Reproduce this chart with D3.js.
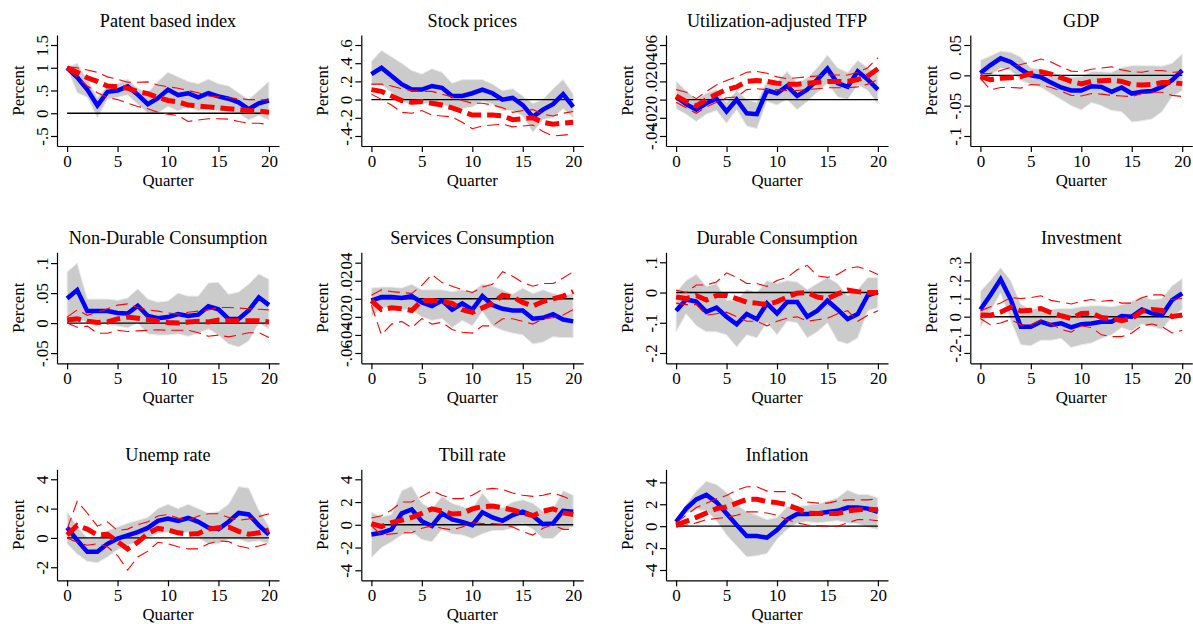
<!DOCTYPE html>
<html>
<head>
<meta charset="utf-8">
<script src="https://cdn.jsdelivr.net/npm/d3@7"></script>
<style>
  body { margin: 0; background: #fff; }
  svg { display: block; }
  text { font-family: "Liberation Serif", "Times New Roman", serif; fill: #000; }
</style>
</head>
<body>
<svg id="chart" width="1193" height="624"></svg>
<script>
// Impulse responses over 20 quarters: baseline (blue, grey band) and alternative (red dashed, thin red bounds)
const quarters = d3.range(0, 21);
const xTicks = [0, 5, 10, 15, 20];

const titles = ["Patent based index", "Stock prices", "Utilization-adjusted TFP", "GDP",
  "Non-Durable Consumption", "Services Consumption", "Durable Consumption", "Investment",
  "Unemp rate", "Tbill rate", "Inflation"];

// Patent based index
const patentBase = [1.0, 0.79, 0.52, 0.17, 0.47, 0.5, 0.59, 0.41, 0.2, 0.33, 0.52, 0.4, 0.44, 0.35, 0.44, 0.37, 0.32, 0.24, 0.09, 0.22, 0.28];
const patentBaseLo = [1.0, 0.45, 0.35, -0.1, 0.3, 0.35, 0.4, 0.2, 0.0, 0.0, 0.15, 0.05, 0.15, 0.05, 0.1, 0.05, 0.05, 0.0, -0.15, -0.05, -0.15];
const patentBaseHi = [1.0, 1.1, 0.75, 0.35, 0.6, 0.65, 0.75, 0.55, 0.45, 0.7, 0.9, 0.8, 0.7, 0.65, 0.75, 0.65, 0.6, 0.45, 0.3, 0.5, 0.7];
const patentAlt = [1.0, 0.9, 0.78, 0.7, 0.6, 0.58, 0.55, 0.48, 0.43, 0.35, 0.28, 0.25, 0.18, 0.16, 0.14, 0.12, 0.1, 0.08, 0.06, 0.05, 0.02];
const patentAltLo = [0.95, 0.8, 0.6, 0.45, 0.35, 0.3, 0.22, 0.15, 0.1, 0.02, -0.02, -0.05, -0.18, -0.15, -0.12, -0.12, -0.13, -0.18, -0.22, -0.22, -0.25];
const patentAltHi = [1.02, 1.0, 0.95, 0.9, 0.8, 0.75, 0.68, 0.68, 0.69, 0.62, 0.58, 0.55, 0.5, 0.45, 0.38, 0.36, 0.34, 0.32, 0.3, 0.3, 0.29];

// Stock prices
const stockBase = [0.28, 0.35, 0.26, 0.17, 0.11, 0.11, 0.15, 0.13, 0.04, 0.04, 0.07, 0.11, 0.07, 0.0, 0.02, -0.06, -0.19, -0.11, -0.05, 0.06, -0.08];
const stockBaseLo = [0.16, 0.16, 0.08, -0.02, -0.06, -0.05, -0.04, -0.05, -0.1, -0.1, -0.08, -0.02, -0.05, -0.12, -0.12, -0.18, -0.36, -0.22, -0.2, -0.1, -0.2];
const stockBaseHi = [0.42, 0.54, 0.47, 0.4, 0.32, 0.28, 0.34, 0.3, 0.18, 0.22, 0.22, 0.22, 0.17, 0.1, 0.12, 0.04, -0.04, 0.0, 0.12, 0.22, 0.06];
const stockAlt = [0.11, 0.09, 0.04, -0.01, -0.03, -0.02, -0.04, -0.06, -0.09, -0.13, -0.17, -0.17, -0.17, -0.18, -0.22, -0.21, -0.2, -0.25, -0.27, -0.26, -0.25];
const stockAltLo = [0.06, 0.0, -0.06, -0.14, -0.15, -0.12, -0.17, -0.18, -0.19, -0.25, -0.32, -0.29, -0.28, -0.27, -0.3, -0.29, -0.28, -0.35, -0.4, -0.39, -0.38];
const stockAltHi = [0.17, 0.17, 0.15, 0.12, 0.1, 0.09, 0.09, 0.06, 0.03, -0.01, -0.04, -0.04, -0.06, -0.09, -0.14, -0.12, -0.11, -0.16, -0.18, -0.15, -0.13];

// Utilization-adjusted TFP
const tfpBase = [0.003, -0.005, -0.011, -0.004, 0.001, -0.013, 0.0, -0.015, -0.016, 0.01, 0.007, 0.015, 0.004, 0.011, 0.022, 0.034, 0.018, 0.014, 0.031, 0.022, 0.011];
const tfpBaseLo = [-0.01, -0.016, -0.024, -0.016, -0.012, -0.026, -0.011, -0.029, -0.032, -0.002, -0.006, 0.0, -0.011, -0.002, 0.008, 0.018, 0.003, 0.0, 0.016, 0.01, -0.005];
const tfpBaseHi = [0.02, 0.01, 0.0, 0.007, 0.011, -0.003, 0.01, 0.0, -0.003, 0.02, 0.02, 0.031, 0.018, 0.024, 0.035, 0.049, 0.035, 0.03, 0.043, 0.035, 0.027];
const tfpAlt = [0.004, -0.002, -0.007, 0.0, 0.006, 0.011, 0.014, 0.02, 0.021, 0.02, 0.018, 0.017, 0.017, 0.018, 0.019, 0.02, 0.02, 0.02, 0.022, 0.026, 0.034];
const tfpAltLo = [-0.003, -0.009, -0.015, -0.008, -0.003, 0.002, 0.003, 0.011, 0.012, 0.011, 0.011, 0.01, 0.01, 0.011, 0.012, 0.013, 0.013, 0.013, 0.014, 0.017, 0.022];
const tfpAltHi = [0.011, 0.008, 0.001, 0.009, 0.016, 0.021, 0.025, 0.03, 0.031, 0.029, 0.025, 0.023, 0.024, 0.025, 0.026, 0.027, 0.027, 0.027, 0.03, 0.035, 0.046];

// GDP
const gdpBase = [0.004, 0.017, 0.028, 0.022, 0.01, 0.0, -0.003, -0.012, -0.02, -0.025, -0.025, -0.018, -0.019, -0.027, -0.02, -0.03, -0.027, -0.026, -0.019, -0.008, 0.008];
const gdpBaseLo = [-0.012, 0.0, 0.012, 0.008, -0.008, -0.015, -0.02, -0.03, -0.04, -0.05, -0.057, -0.045, -0.05, -0.058, -0.06, -0.077, -0.075, -0.072, -0.06, -0.035, -0.025];
const gdpBaseHi = [0.025, 0.032, 0.04, 0.038, 0.03, 0.012, 0.01, 0.005, 0.0, -0.003, -0.002, 0.006, 0.006, 0.005, 0.013, 0.016, 0.016, 0.016, 0.015, 0.02, 0.035];
const gdpAlt = [-0.002, -0.007, -0.005, -0.004, -0.002, 0.003, 0.006, 0.002, -0.004, -0.01, -0.014, -0.01, -0.009, -0.008, -0.01, -0.015, -0.016, -0.015, -0.012, -0.012, -0.014];
const gdpAltLo = [-0.005, -0.024, -0.02, -0.02, -0.021, -0.015, -0.016, -0.02, -0.026, -0.033, -0.034, -0.03, -0.031, -0.033, -0.034, -0.035, -0.03, -0.028, -0.028, -0.033, -0.035];
const gdpAltHi = [0.003, 0.003, 0.008, 0.013, 0.018, 0.022, 0.027, 0.022, 0.014, 0.007, 0.006, 0.01, 0.012, 0.014, 0.009, 0.006, 0.005, 0.008, 0.008, 0.005, 0.006];

// Non-Durable Consumption
const ndurBase = [0.041, 0.055, 0.02, 0.02, 0.02, 0.017, 0.016, 0.029, 0.012, 0.008, 0.01, 0.015, 0.012, 0.014, 0.028, 0.023, 0.007, 0.007, 0.021, 0.043, 0.03];
const ndurBaseLo = [-0.002, 0.01, 0.0, 0.0, -0.002, -0.005, -0.008, 0.0, -0.018, -0.02, -0.02, -0.018, -0.022, -0.017, -0.01, -0.02, -0.035, -0.04, -0.03, 0.0, -0.01];
const ndurBaseHi = [0.085, 0.1, 0.04, 0.04, 0.04, 0.038, 0.042, 0.057, 0.04, 0.035, 0.037, 0.05, 0.045, 0.045, 0.067, 0.068, 0.048, 0.052, 0.065, 0.082, 0.073];
const ndurAlt = [0.005, 0.007, 0.003, 0.001, 0.002, 0.007, 0.01, 0.008, 0.006, 0.003, 0.001, 0.0, 0.002, 0.003, 0.002, 0.005, 0.004, 0.004, 0.004, 0.004, 0.002];
const ndurAltLo = [0.0, -0.007, -0.005, -0.017, -0.017, -0.012, -0.014, -0.013, -0.012, -0.011, -0.012, -0.012, -0.012, -0.016, -0.022, -0.02, -0.023, -0.02, -0.016, -0.016, -0.024];
const ndurAltHi = [0.01, 0.022, 0.013, 0.018, 0.024, 0.03, 0.032, 0.026, 0.022, 0.02, 0.017, 0.015, 0.018, 0.02, 0.022, 0.026, 0.026, 0.025, 0.024, 0.023, 0.022];

// Services Consumption
const servBase = [-0.002, 0.002, 0.002, 0.001, 0.003, -0.004, -0.008, -0.002, -0.012, -0.005, -0.012, 0.003, -0.007, -0.011, -0.013, -0.013, -0.022, -0.021, -0.017, -0.023, -0.025];
const servBaseLo = [-0.02, -0.01, -0.01, -0.012, -0.012, -0.02, -0.024, -0.022, -0.032, -0.024, -0.03, -0.014, -0.03, -0.035, -0.038, -0.04, -0.05, -0.048, -0.042, -0.043, -0.043];
const servBaseHi = [0.012, 0.013, 0.013, 0.012, 0.016, 0.01, 0.01, 0.01, 0.008, 0.01, 0.008, 0.016, 0.014, 0.01, 0.005, 0.012, 0.006, 0.01, 0.006, 0.004, 0.006];
const servAlt = [-0.002, -0.012, -0.01, -0.011, -0.013, -0.002, -0.002, -0.003, -0.005, -0.012, -0.015, -0.01, -0.005, 0.004, 0.002, -0.004, -0.008, -0.003, 0.0, 0.003, 0.008];
const servAltLo = [-0.007, -0.04, -0.028, -0.025, -0.032, -0.022, -0.028, -0.026, -0.034, -0.037, -0.038, -0.03, -0.03, -0.022, -0.022, -0.025, -0.028, -0.022, -0.021, -0.018, -0.012];
const servAltHi = [0.004, 0.01, 0.008, 0.007, 0.006, 0.015, 0.027, 0.018, 0.014, 0.01, 0.007, 0.013, 0.016, 0.03, 0.025, 0.018, 0.014, 0.017, 0.017, 0.023, 0.03];

// Durable Consumption
const durBase = [-0.06, -0.023, -0.03, -0.064, -0.05, -0.08, -0.105, -0.071, -0.088, -0.036, -0.069, -0.031, -0.031, -0.08, -0.06, -0.027, -0.056, -0.088, -0.071, -0.009, 0.002];
const durBaseLo = [-0.13, -0.07, -0.11, -0.13, -0.13, -0.14, -0.18, -0.14, -0.15, -0.1, -0.14, -0.095, -0.1, -0.15, -0.13, -0.1, -0.16, -0.17, -0.15, -0.06, -0.05];
const durBaseHi = [0.0, 0.04, 0.06, 0.02, 0.03, -0.025, -0.025, 0.01, 0.0, 0.04, 0.03, 0.04, 0.035, 0.01, 0.03, 0.05, 0.03, -0.01, 0.01, 0.05, 0.05];
const durAlt = [-0.015, -0.02, -0.01, -0.025, -0.01, -0.01, -0.02, -0.032, -0.035, -0.04, -0.03, -0.015, -0.002, 0.0, -0.015, -0.02, -0.005, 0.008, 0.003, 0.0, 0.0];
const durAltLo = [-0.035, -0.04, -0.04, -0.075, -0.07, -0.065, -0.08, -0.095, -0.095, -0.11, -0.095, -0.085, -0.08, -0.095, -0.09, -0.085, -0.07, -0.06, -0.095, -0.075, -0.06];
const durAltHi = [0.008, 0.0, 0.025, 0.025, 0.035, 0.065, 0.05, 0.03, 0.03, 0.02, 0.04, 0.05, 0.075, 0.09, 0.055, 0.05, 0.06, 0.08, 0.085, 0.075, 0.06];

// Investment
const invBase = [0.04, 0.12, 0.206, 0.096, -0.055, -0.055, -0.028, -0.046, -0.037, -0.059, -0.041, -0.037, -0.028, -0.028, 0.004, 0.0, 0.04, 0.018, 0.009, 0.092, 0.129];
const invBaseLo = [-0.06, 0.03, 0.13, -0.02, -0.155, -0.16, -0.13, -0.13, -0.12, -0.17, -0.155, -0.145, -0.12, -0.1, -0.06, -0.08, -0.04, -0.055, -0.07, 0.0, 0.04];
const invBaseHi = [0.14, 0.2, 0.27, 0.2, 0.07, 0.04, 0.05, 0.04, 0.045, 0.045, 0.055, 0.06, 0.06, 0.055, 0.065, 0.085, 0.11, 0.095, 0.1, 0.17, 0.21];
const invAlt = [0.01, 0.008, 0.025, 0.052, 0.032, 0.035, 0.045, 0.022, 0.005, -0.01, 0.018, 0.02, -0.005, -0.01, -0.022, -0.01, 0.03, 0.04, 0.035, 0.0, 0.01];
const invAltLo = [-0.01, -0.045, -0.035, -0.015, -0.045, -0.045, -0.02, -0.04, -0.07, -0.085, -0.05, -0.06, -0.1, -0.11, -0.11, -0.09, -0.05, -0.04, -0.055, -0.09, -0.075];
const invAltHi = [0.032, 0.055, 0.075, 0.105, 0.1, 0.105, 0.115, 0.09, 0.08, 0.07, 0.085, 0.095, 0.085, 0.09, 0.075, 0.075, 0.105, 0.12, 0.12, 0.095, 0.1];

// Unemp rate
const unempBase = [0.7, -0.16, -0.95, -0.95, -0.4, -0.05, 0.18, 0.4, 0.68, 1.16, 1.32, 1.16, 1.36, 1.1, 0.7, 0.6, 1.1, 1.7, 1.6, 0.86, 0.23];
const unempBaseLo = [-0.4, -1.1, -1.6, -1.7, -1.3, -0.8, -0.5, -0.3, 0.0, 0.3, 0.4, 0.3, 0.4, 0.0, -0.4, -0.4, -0.1, -0.1, -0.3, -0.2, -0.4];
const unempBaseHi = [1.8, 0.8, 0.0, 0.0, 0.5, 0.75, 1.0, 1.2, 1.4, 2.0, 2.3, 2.0, 2.3, 2.0, 1.7, 1.8, 2.3, 3.5, 3.4, 1.9, 0.8];
const unempAlt = [0.2, 0.85, 0.6, 0.2, 0.25, -0.25, -0.75, -0.3, 0.3, 0.65, 0.55, 0.35, 0.25, 0.3, 0.6, 0.7, 0.75, 0.45, 0.25, 0.35, 0.55];
const unempAltLo = [0.0, -0.3, -0.5, -0.4, -0.6, -1.2, -2.2, -1.3, -0.9, -0.3, -0.4, -0.6, -0.75, -0.75, -0.4, -0.2, -0.25, -0.55, -0.7, -0.55, -0.35];
const unempAltHi = [0.6, 2.5, 1.7, 0.8, 1.1, 0.5, 0.6, 0.9, 1.1, 1.5, 1.6, 1.35, 1.2, 1.5, 1.65, 1.65, 1.4, 1.2, 1.3, 1.45, 1.65];

// Tbill rate
const tbillBase = [-0.85, -0.7, -0.4, 1.0, 1.35, 0.32, -0.1, 1.0, 0.47, 0.26, -0.03, 1.1, 0.65, 0.35, 0.85, 1.15, 0.8, 0.06, 0.12, 1.23, 1.15];
const tbillBaseLo = [-2.9, -2.0, -1.5, -0.9, -0.6, -1.3, -1.5, -0.4, -0.8, -0.9, -1.2, -0.8, -0.5, -0.5, -0.3, 0.1, -0.4, -1.2, -1.2, -0.4, -0.2];
const tbillBaseHi = [1.1, 0.7, 0.9, 3.0, 3.4, 1.9, 1.4, 2.5, 1.9, 1.6, 1.4, 2.8, 1.7, 1.5, 2.0, 2.2, 1.9, 1.2, 1.4, 3.0, 2.6];
const tbillAlt = [0.1, -0.15, 0.2, 0.4, 0.65, 1.0, 1.4, 1.2, 0.95, 1.0, 1.4, 1.6, 1.65, 1.5, 1.3, 1.05, 0.8, 1.2, 1.4, 1.05, 0.9];
const tbillAltLo = [-0.1, -0.9, -0.8, -0.7, -0.7, -0.3, -0.1, -0.3, -0.45, -0.2, 0.2, 0.1, 0.1, 0.05, -0.2, -0.6, -0.9, -0.3, 0.0, -0.4, -0.4];
const tbillAltHi = [0.6, 0.8, 1.3, 2.0, 2.0, 2.5, 3.0, 2.6, 2.3, 2.3, 2.6, 3.1, 3.2, 3.1, 2.8, 2.6, 2.5, 2.6, 2.8, 2.5, 2.1];

// Inflation
const inflBase = [0.4, 1.6, 2.45, 2.85, 2.2, 1.15, 0.1, -0.9, -0.9, -1.05, -0.35, 0.6, 1.1, 1.1, 1.15, 1.3, 1.4, 1.7, 1.7, 1.6, 1.3];
const inflBaseLo = [0.3, 1.2, 1.5, 1.4, 0.5, -0.8, -1.8, -2.8, -2.7, -2.5, -1.2, -0.3, 0.3, 0.4, 0.3, 0.4, 0.5, 0.3, 0.2, -0.1, -0.3];
const inflBaseHi = [0.5, 2.0, 3.2, 4.1, 3.8, 3.1, 2.0, 1.3, 1.0, 0.6, 0.8, 1.8, 1.8, 1.9, 2.0, 2.3, 2.6, 3.3, 2.9, 2.9, 2.6];
const inflAlt = [0.1, 0.45, 0.8, 1.2, 1.6, 1.75, 2.1, 2.45, 2.45, 2.25, 2.15, 1.95, 1.6, 1.2, 1.15, 1.15, 1.15, 1.4, 1.5, 1.55, 1.5];
const inflAltLo = [-0.1, 0.1, 0.3, 0.6, 0.7, 0.8, 1.0, 1.3, 1.3, 1.2, 1.0, 0.6, 0.3, 0.1, 0.05, 0.0, 0.0, 0.3, 0.6, 0.6, 0.5];
const inflAltHi = [0.3, 1.0, 1.7, 2.1, 2.5, 2.8, 3.3, 3.6, 3.6, 3.2, 3.15, 3.15, 2.8, 2.2, 2.1, 2.1, 2.3, 2.4, 2.4, 2.4, 2.5];

// Y-axis ticks and their Stata-style labels
const yTickValues = [
  [-0.5, 0, 0.5, 1, 1.5],
  [-0.4, -0.2, 0, 0.2, 0.4, 0.6],
  [-0.04, -0.02, 0, 0.02, 0.04, 0.06],
  [-0.1, -0.05, 0, 0.05],
  [-0.05, 0, 0.05, 0.1],
  [-0.06, -0.04, -0.02, 0, 0.02, 0.04],
  [-0.2, -0.1, 0, 0.1],
  [-0.2, -0.1, 0, 0.1, 0.2, 0.3],
  [-2, 0, 2, 4],
  [-4, -2, 0, 2, 4],
  [-4, -2, 0, 2, 4]
];
const yTickLabels = [
  ["-.5", "0", ".5", "1", "1.5"],
  ["-.4", "-.2", "0", ".2", ".4", ".6"],
  ["-.04", "-.02", "0", ".02", ".04", ".06"],
  ["-.1", "-.05", "0", ".05"],
  ["-.05", "0", ".05", ".1"],
  ["-.06", "-.04", "-.02", "0", ".02", ".04"],
  ["-.2", "-.1", "0", ".1"],
  ["-.2", "-.1", "0", ".1", ".2", ".3"],
  ["-2", "0", "2", "4"],
  ["-4", "-2", "0", "2", "4"],
  ["-4", "-2", "0", "2", "4"]
];
// Y-axis extents (value at the bottom and top of each plot region)
const yExtents = [
  [-0.72, 1.72], [-0.51, 0.71], [-0.051, 0.071], [-0.1165, 0.0665],
  [-0.067, 0.118], [-0.0714, 0.0515], [-0.234, 0.133], [-0.257, 0.355],
  [-2.89, 4.68], [-4.88, 4.88], [-4.94, 5.19]
];

const baseLines = [patentBase, stockBase, tfpBase, gdpBase, ndurBase, servBase, durBase, invBase, unempBase, tbillBase, inflBase];
const baseLo = [patentBaseLo, stockBaseLo, tfpBaseLo, gdpBaseLo, ndurBaseLo, servBaseLo, durBaseLo, invBaseLo, unempBaseLo, tbillBaseLo, inflBaseLo];
const baseHi = [patentBaseHi, stockBaseHi, tfpBaseHi, gdpBaseHi, ndurBaseHi, servBaseHi, durBaseHi, invBaseHi, unempBaseHi, tbillBaseHi, inflBaseHi];
const altLines = [patentAlt, stockAlt, tfpAlt, gdpAlt, ndurAlt, servAlt, durAlt, invAlt, unempAlt, tbillAlt, inflAlt];
const altLo = [patentAltLo, stockAltLo, tfpAltLo, gdpAltLo, ndurAltLo, servAltLo, durAltLo, invAltLo, unempAltLo, tbillAltLo, inflAltLo];
const altHi = [patentAltHi, stockAltHi, tfpAltHi, gdpAltHi, ndurAltHi, servAltHi, durAltHi, invAltHi, unempAltHi, tbillAltHi, inflAltHi];

// Grid layout: y-axis position of each column, top of each row
const colLeft = [57, 361.3, 666, 970.3];
const rowTop = [35, 252.3, 469.3];
const plotW = 222, plotH = 111;

const svg = d3.select("#chart");

titles.forEach((title, i) => {
  const col = i % 4, row = Math.floor(i / 4);
  const left = colLeft[col], top = rowTop[row];
  const g = svg.append("g").attr("transform", `translate(${left},${top})`);

  const x = d3.scaleLinear().domain([-1, 21]).range([0, plotW]);
  const y = d3.scaleLinear().domain(yExtents[i]).range([plotH, 0]);

  const rows = quarters.map(q => ({
    q, base: baseLines[i][q], bLo: baseLo[i][q], bHi: baseHi[i][q],
    alt: altLines[i][q], aLo: altLo[i][q], aHi: altHi[i][q]
  }));

  // Confidence band of the baseline response
  g.append("path").datum(rows)
    .attr("d", d3.area().x(d => x(d.q)).y0(d => y(d.bLo)).y1(d => y(d.bHi)))
    .attr("fill", "#cbcbcb").attr("stroke", "#ececec").attr("stroke-width", 1);

  // Zero reference line
  g.append("line")
    .attr("x1", x(0)).attr("x2", x(20)).attr("y1", y(0)).attr("y2", y(0))
    .attr("stroke", "#000").attr("stroke-width", 1.4);

  // Baseline response
  g.append("path").datum(rows)
    .attr("d", d3.line().x(d => x(d.q)).y(d => y(d.base)))
    .attr("fill", "none").attr("stroke", "#0000ff").attr("stroke-width", 4.5)
    .attr("stroke-linejoin", "miter");

  // Bounds of the alternative response
  ["aLo", "aHi"].forEach(k => {
    g.append("path").datum(rows)
      .attr("d", d3.line().x(d => x(d.q)).y(d => y(d[k])))
      .attr("fill", "none").attr("stroke", "#ff0000").attr("stroke-width", 1.1)
      .attr("stroke-dasharray", "12,6");
  });

  // Alternative response
  g.append("path").datum(rows)
    .attr("d", d3.line().x(d => x(d.q)).y(d => y(d.alt)))
    .attr("fill", "none").attr("stroke", "#ff0000").attr("stroke-width", 5)
    .attr("stroke-dasharray", "14,6");

  // Axes
  const yAxis = d3.axisLeft(y).tickValues(yTickValues[i])
    .tickFormat((d, k) => yTickLabels[i][k]).tickSize(6).tickSizeOuter(0);
  const ya = g.append("g").call(yAxis);
  ya.selectAll("text")
    .attr("transform", "rotate(-90)")
    .attr("x", 0).attr("y", -9).attr("dy", 0)
    .attr("text-anchor", "middle");

  const xAxis = d3.axisBottom(x).tickValues(xTicks).tickSize(6).tickSizeOuter(0).tickPadding(3);
  const xa = g.append("g").attr("transform", `translate(0,${plotH})`).call(xAxis);

  [ya, xa].forEach(a => {
    a.attr("font-family", null).attr("font-size", null);
    a.selectAll("text").style("font-size", "17px");
    a.select(".domain").attr("stroke", "#000").attr("stroke-width", 1.2);
    a.selectAll(".tick line").attr("stroke", "#000").attr("stroke-width", 1.2);
  });

  // Titles
  g.append("text").attr("x", plotW / 2).attr("y", -8)
    .attr("text-anchor", "middle").style("font-size", "18.2px").text(title);
  g.append("text").attr("x", plotW / 2).attr("y", plotH + 40)
    .attr("text-anchor", "middle").style("font-size", "16.8px").text("Quarter");
  g.append("text")
    .attr("transform", `translate(-33,${plotH / 2}) rotate(-90)`)
    .attr("text-anchor", "middle").style("font-size", "16.8px").text("Percent");
});
</script>
</body>
</html>
